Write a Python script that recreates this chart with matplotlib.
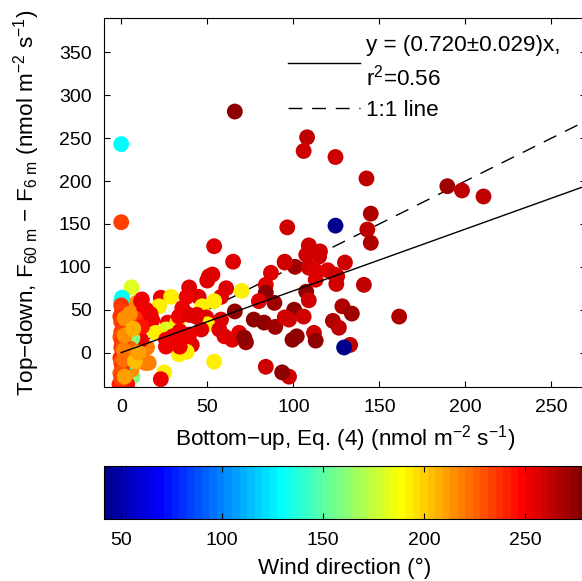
import numpy as np
import matplotlib
matplotlib.use("Agg")
from matplotlib import pyplot as plt
from matplotlib.colors import ListedColormap
from matplotlib.lines import Line2D

plt.rcParams["font.family"] = ["Liberation Sans", "DejaVu Sans"]
plt.rcParams["mathtext.default"] = "regular"
plt.rcParams["font.size"] = 16.2

# bottom-up flux (x), top-down flux (y), wind direction (colour)
bottom_up = [
    0, 0, 66, 108, 106, 124.5, 142.5, 124.5, 96.5, 145, 143, 145, 189.5, 198, 210.5,
    54, 65, 95, 101, 87, 51, 53, 50, 109, 115.5, 107.5, 115, 130, 95, 109, 120, 113,
    124, 125.5, 125, 141, 107.5, 113, 109, 100.5, 106, 97.5, 128.5, 134, 123, 126.5,
    112, 102, 113, 99.5, 133, 129.5, 161.5, 97.5, 93.5, 84, 54, 84, 61, 70, 39.5, 45,
    58, 54, 84, 89, 80, 47, 66, 44, 49.5, 58, 77, 83, 89.5, 95, 50, 57, 60, 64.5, 68.5,
    72.5, 71.5, 41, 39.5, 46.5,
    6, 0.5, 0, 12, 23, 29, 9, 13, 22, 18, 27, 32.5, 33.5, 26, 20, 33.5, 38, 25, 23,
    8.5, 6.5, 15, 12, 16, 6, 3.5, -1, 3, 3, 3.5, 38, 35.5, 14.5, 17, 34, 30, 26, 26,
    34, 39.5, 11.5, 14, 11.5, 6.5, 10, 8, 5, 9, 12, 43.5, 39.5,
    0, 0.5, -0.5, 0, 1, 0, -0.5, 0.5, 0, 1, -0.5, 0, 0.5, -0.5, 0, 1.5, 2, 1.5, 2, 2,
    8, 10, 5, 7,
]
top_down = [
    243, 152, 281, 251, 235, 228, 203, 148, 146, 162, 143.5, 128, 194, 189, 182,
    124, 106, 106, 100, 93, 89, 91, 84, 125, 118, 114, 112, 105, 105, 99, 96, 95,
    91, 89, 80, 79, 71, 85, 61, 50, 42, 38.5, 54, 45.5, 37, 29,
    23, 19, 14, 15, 9, 6, 42, -28, -23, -16.5, -10.5, 79, 75, 72, 76, 65,
    65, 60, 70, 58, 60, 54, 48, 44, 41, 38.5, 38.5, 35, 30, 41, 33, 27, 19, 15, 23,
    12, 17.5, 9, 13, 27,
    76, 64, 60, 62, 64, 65, 58, 48, 54, 38, 35, 35, 42, 27, 23, -2, 1, -23, -31,
    13, -28, 6, -8, -12, -20, -37, -37, 1, -12, 25, 65, 52, 50, 45, 25, 19, 15, 7,
    7, 21, 15, -12, 60, 17, 30, 40, 5, -3, 30, 42, 44,
    55, 48, 42, 36, 30, 24, 18, 12, 6, 0, -6, -12, -18, -24, -30, 3, 20, -8, 40, -28,
    -10, 0, 45, 28,
]
wind_dir = [
    130, 234, 276, 262, 260, 260, 262, 45, 258, 268, 262, 268, 270, 262, 262,
    254, 256, 258, 272, 256, 254, 254, 254, 260, 260, 260, 260, 260, 258, 258, 256, 254,
    258, 260, 260, 262, 274, 254, 258, 274, 260, 260, 268, 272, 268, 262,
    260, 274, 276, 274, 262, 45, 266, 258, 274, 258, 192, 256, 256, 192, 254, 254,
    256, 192, 274, 270, 256, 192, 274, 254, 254, 256, 274, 274, 272, 258, 192, 254, 256, 256, 254,
    272, 274, 254, 254, 254,
    180, 130, 132, 252, 252, 192, 215, 252, 192, 252, 252, 192, 252, 180, 192, 192, 192, 192, 252,
    160, 160, 218, 218, 218, 216, 244, 242, 135, 135, 138, 252, 252, 252, 252, 252, 252, 252, 252,
    252, 252, 252, 218, 252, 160, 232, 236, 226, 230, 244, 254, 254,
    236, 234, 238, 232, 236, 234, 230, 238, 232, 228, 236, 230, 238, 228, 234, 218, 214, 222, 216, 212,
    205, 212, 214, 208,
]

slope = 0.720
line_x = np.array([0, 270])


def matlab_jet(m=64):
    # same construction as MATLAB's jet(m)
    n = int(np.ceil(m / 4))
    u = np.concatenate([np.arange(1, n + 1) / n, np.ones(n - 1), np.arange(n, 0, -1) / n])
    g = int(np.ceil(n / 2)) - (1 if m % 4 == 1 else 0) + np.arange(1, len(u) + 1)
    r = g + n
    b = g - n
    g = g[g <= m]
    r = r[r <= m]
    b = b[b >= 1]
    J = np.zeros((m, 3))
    J[r - 1, 0] = u[:len(r)]
    J[g - 1, 1] = u[:len(g)]
    J[b - 1, 2] = u[len(u) - len(b):]
    return ListedColormap(J)


fig = plt.figure(figsize=(5.82, 5.81), dpi=100)
ax = fig.add_axes([0.1787, 0.334, 0.828, 0.635])
cax = fig.add_axes([0.1787, 0.1067, 0.828, 0.0912])

ax.plot(line_x, line_x, color="k", lw=1.0, dashes=(10, 7), zorder=1)
sc = ax.scatter(bottom_up, top_down, c=wind_dir, cmap=matlab_jet(64),
                vmin=41.6, vmax=280, s=130, linewidths=0, zorder=2)
ax.plot(line_x, slope * line_x, color="k", lw=1.0, zorder=3)

ax.set_xlim(-10, 270)
ax.set_ylim(-40, 390)
ax.set_xticks([0, 50, 100, 150, 200, 250])
ax.set_yticks([0, 50, 100, 150, 200, 250, 300, 350])
ax.tick_params(direction="in", length=4, width=0.8, top=True, right=True, pad=9,
               labelsize=14)
for sp in ax.spines.values():
    sp.set_linewidth(0.8)

ax.set_xlabel("Bottom\u2212up, Eq. (4) (nmol m$^{-2}$ s$^{-1}$)", labelpad=4.5)
ax.set_ylabel("Top\u2212down, F$_{60\\ m}$ \u2212 F$_{6\\ m}$ (nmol m$^{-2}$ s$^{-1}$)", labelpad=12)

handles = [Line2D([], [], color="k", lw=1.0),
           Line2D([], [], color="k", lw=1.0, dashes=(10, 7))]
labels = ["y = (0.720\u00b10.029)x,\nr$^2$=0.56", "1:1 line"]
leg = ax.legend(handles, labels, loc="upper left", bbox_to_anchor=(0.381, 0.955),
                frameon=False, handlelength=3.2, handletextpad=0.27, borderpad=0,
                borderaxespad=0, labelspacing=0.42)
for t in leg.get_texts():
    t.set_linespacing(1.42)

cb = fig.colorbar(sc, cax=cax, orientation="horizontal")
cb.set_ticks([50, 100, 150, 200, 250])
cb.ax.tick_params(direction="in", length=4, width=0.8, top=True, bottom=True, pad=9,
                  labelsize=14)
cb.outline.set_linewidth(0.8)
cb.set_label("Wind direction (\u00b0)", labelpad=6.5)

fig.savefig("out.png", dpi=100)
